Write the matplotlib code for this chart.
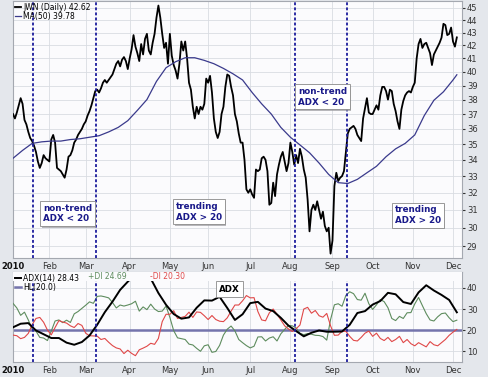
import matplotlib
matplotlib.use('Agg')
import matplotlib.pyplot as plt
import matplotlib.patheffects as pe
from matplotlib.ticker import FixedLocator, FixedFormatter, NullLocator
import numpy as np
import pandas as pd

# trading days of 2010 shown on the chart (NYSE holidays removed)
holidays = ['2010-01-18', '2010-02-15', '2010-04-02', '2010-05-31',
            '2010-07-05', '2010-09-06', '2010-11-25']
dates = pd.bdate_range('2010-01-04', '2010-12-03', freq='C', holidays=holidays)

# JWN daily close
close = [
    37.0, 36.7, 37.1, 37.6, 38.1, 37.7, 36.6, 36.3, 35.8, 35.4,
    35.2, 34.9, 34.5, 33.9, 33.5, 33.8, 34.3, 34.1, 34.0, 33.9,
    35.3, 35.6, 35.1, 33.5, 33.4, 33.3, 33.1, 32.9, 33.4, 34.2,
    34.3, 34.6, 35.1, 35.3, 35.6, 35.8, 36.0, 36.3, 36.5, 36.9,
    37.2, 37.6, 38.1, 38.6, 38.7, 38.5, 38.8, 39.2, 39.4, 39.2,
    39.4, 39.6, 39.8, 40.2, 40.6, 40.8, 40.4, 40.9, 41.1, 40.8,
    40.2, 41.0, 41.7, 42.8, 41.9, 41.4, 40.8, 42.1, 41.3, 42.5,
    42.9, 41.6, 41.3, 42.2, 42.9, 44.2, 45.2, 44.2, 42.9, 41.8,
    42.2, 40.6, 42.9, 41.2, 40.5, 40.1, 39.5, 40.6, 42.3, 41.6,
    42.3, 41.0, 39.2, 38.7, 37.5, 36.7, 37.5, 37.0, 37.5, 37.3,
    37.7, 39.5, 39.2, 39.7, 38.5, 36.7, 35.8, 35.4, 35.8, 37.0,
    37.5, 38.9, 39.8, 39.7, 38.9, 38.3, 37.0, 36.5, 35.7, 35.1,
    35.1, 34.0, 32.2, 32.0, 32.2, 31.9, 31.7, 33.4, 33.3, 33.4,
    34.1, 34.2, 34.0, 33.3, 31.3, 31.4, 32.6, 31.8, 33.1, 33.7,
    34.2, 34.5, 33.9, 33.3, 33.8, 35.1, 34.5, 33.7, 34.3, 33.8,
    34.7, 34.2, 33.4, 32.9, 31.6, 29.8, 31.0, 31.3, 31.0, 31.5,
    31.0, 30.5, 30.9, 30.1, 29.8, 30.0, 28.6, 29.3, 32.4, 33.2,
    32.7, 32.9, 33.0, 33.3, 34.5, 35.7, 36.0, 36.1, 36.2, 36.0,
    35.6, 35.4, 35.2, 36.7, 37.4, 38.1, 37.1, 37.0, 37.0, 37.3,
    37.6, 37.3, 38.3, 38.9, 38.9, 38.6, 38.0, 38.7, 38.6, 37.7,
    37.2, 36.5, 36.0, 37.3, 37.9, 38.3, 38.5, 38.6, 38.5, 38.9,
    39.2, 41.0, 42.1, 42.5, 41.8, 42.1, 42.2, 41.8, 41.4, 40.5,
    41.3, 41.6, 41.9, 42.2, 42.6, 43.7, 43.6, 42.8, 42.9, 43.4,
    42.3, 41.9, 42.62,
]

# 50-day moving average, read every 5th trading day
ma_days = list(range(0, 231, 5)) + [232]
ma50 = [
    34.1, 34.6, 35.05, 35.15, 35.2, 35.2, 35.3, 35.35, 35.45, 35.55,
    35.8, 36.1, 36.55, 37.25, 38.0, 39.3, 40.3, 40.75, 41.05, 41.05,
    40.85, 40.6, 40.25, 39.85, 39.4, 38.5, 37.7, 37.0, 36.1, 35.45,
    34.95, 34.45, 33.8, 33.1, 32.6, 32.55, 32.8, 33.2, 33.6, 34.2,
    34.7, 35.05, 35.6, 36.9, 37.95, 38.55, 39.4, 39.78,
]

# ADX(14), every 4th trading day
adx_days = list(range(0, 233, 4))
adx = [
    21.3, 23.0, 23.3, 19.8, 18.0, 16.2, 16.2, 14.0, 13.0, 14.3,
    17.4, 22.5, 28.5, 33.5, 39.1, 43.0, 46.5, 48.5, 44.5, 37.6,
    32.0, 27.6, 25.4, 26.0, 30.6, 34.1, 34.0, 35.8, 30.5, 24.8,
    27.5, 32.8, 33.4, 30.2, 29.0, 25.8, 22.1, 19.5, 17.0, 18.7,
    19.8, 19.2, 19.2, 19.3, 22.5, 28.1, 29.0, 32.1, 33.8, 37.7,
    37.0, 33.3, 32.4, 37.9, 41.3, 38.8, 36.7, 34.3, 28.43,
]

# +DI and -DI, every 2nd trading day
di_days = list(range(0, 233, 2))
plus_di = [
    32.7, 30.5, 27.0, 28.5, 24.8, 20.5, 19.5, 16.5, 16.2, 15.0,
    19.5, 24.3, 24.8, 23.5, 24.7, 23.6, 27.7, 28.8, 30.3, 31.8,
    33.4, 32.7, 36.0, 36.2, 35.8, 35.3, 33.1, 30.5, 31.9, 31.4,
    31.9, 32.5, 33.7, 29.0, 31.0, 29.7, 32.3, 30.0, 28.8, 29.0,
    31.4, 26.0, 19.7, 16.3, 15.9, 15.5, 13.3, 12.9, 11.3, 9.9,
    12.5, 13.0, 9.4, 9.8, 12.7, 17.6, 20.4, 21.9, 19.6, 15.5,
    14.0, 12.6, 11.5, 12.3, 16.7, 16.8, 14.8, 16.2, 16.8, 14.8,
    18.2, 20.3, 22.2, 22.0, 21.0, 18.4, 17.8, 18.3, 18.0, 17.5,
    17.4, 16.9, 15.2, 25.0, 32.0, 32.5, 31.3, 36.5, 38.2, 37.3,
    34.5, 34.2, 37.5, 32.5, 29.8, 32.0, 34.5, 33.5, 30.6, 25.5,
    24.5, 26.5, 25.5, 28.2, 28.3, 32.4, 35.5, 31.6, 27.8, 24.8,
    24.3, 26.3, 27.8, 28.1, 25.8, 24.0, 24.69,
]
minus_di = [
    17.6, 17.3, 15.9, 16.5, 18.4, 22.5, 25.5, 26.0, 23.7, 20.0,
    17.7, 21.2, 24.5, 23.8, 23.3, 22.0, 21.2, 23.1, 22.2, 18.5,
    17.3, 17.2, 17.1, 15.5, 16.0, 14.2, 12.6, 11.5, 11.0, 8.8,
    10.4, 8.9, 7.8, 10.6, 11.4, 12.3, 13.7, 13.2, 16.0, 24.0,
    27.5, 27.5, 29.2, 25.5, 26.0, 26.5, 28.5, 26.0, 28.6, 28.4,
    26.8, 25.0, 26.9, 25.0, 24.2, 24.0, 25.8, 29.0, 31.9, 31.9,
    33.9, 36.4, 35.3, 35.4, 28.8, 24.8, 24.4, 28.2, 30.0, 27.5,
    24.8, 22.0, 20.5, 19.3, 20.6, 22.4, 30.0, 30.8, 28.0, 29.3,
    26.8, 26.1, 27.9, 22.0, 17.5, 17.6, 19.4, 19.4, 17.0, 15.1,
    14.8, 16.5, 18.5, 19.5, 17.0, 18.5, 16.0, 15.0, 16.5, 14.5,
    15.5, 17.0, 14.0, 15.5, 13.5, 12.5, 14.0, 13.0, 12.0, 14.5,
    13.0, 12.5, 14.0, 15.5, 17.5, 19.0, 20.3,
]
hl_level = 20.0

# days marked with the blue dashed lines
signal_days = [10.5, 43.5, 147.5, 174.5]
notes = [
    (15.7, 30.8, 'non-trend\nADX < 20'),
    (85.2, 30.9, 'trending\nADX > 20'),
    (149.0, 38.2, 'non-trend\nADX < 20'),
    (199.7, 30.7, 'trending\nADX > 20'),
]
price_ticks = list(range(29, 46))
ind_ticks = [10, 20, 30, 40]

x = np.arange(len(dates))
month_pos = [i for i in range(len(dates)) if i == 0 or dates[i].month != dates[i - 1].month]
month_lab = ['2010' if dates[i].month == 1 else dates[i].strftime('%b') for i in month_pos]

fig_bg = '#e4e7ec'
ax_bg = '#fbfbfd'
grid_c = '#d9dce2'
sig_c = '#1c1c9c'
note_c = '#1a1a8a'

fig = plt.figure(figsize=(4.88, 3.77), dpi=100, facecolor=fig_bg)
ax1 = fig.add_axes([13 / 488, 1 - 258 / 377, 449 / 488, 257 / 377], facecolor=ax_bg)
ax2 = fig.add_axes([13 / 488, 1 - 362 / 377, 449 / 488, 90 / 377], facecolor=ax_bg)

xmax = 234.7
for ax in (ax1, ax2):
    ax.set_xlim(0, xmax)
    ax.xaxis.set_major_locator(FixedLocator(month_pos))
    ax.xaxis.set_major_formatter(FixedFormatter(month_lab))
    ax.yaxis.tick_right()
    ax.tick_params(axis='x', length=0, pad=3, labelsize=6, colors='#333333')
    ax.tick_params(axis='y', length=2, pad=1.5, labelsize=6, colors='#333333')
    ax.grid(True, color=grid_c, lw=0.6)
    ax.set_axisbelow(True)
    for s in ax.spines.values():
        s.set_color('#a4a8b0')
        s.set_linewidth(0.8)
    for lab in ax.get_xticklabels():
        if lab.get_text() == '2010':
            lab.set_fontweight('bold')
            lab.set_color('#111111')
    for d in signal_days:
        ax.axvline(d, color=sig_c, lw=1.3, ls=(0, (1.6, 1.2)), zorder=4)

# price panel
ax1.set_yscale('log')
ax1.set_ylim(28.37, 45.58)
ax1.yaxis.set_major_locator(FixedLocator(price_ticks))
ax1.yaxis.set_major_formatter(FixedFormatter([str(t) for t in price_ticks]))
ax1.yaxis.set_minor_locator(NullLocator())
l_px, = ax1.plot(x, close, color='black', lw=1.3, zorder=3)
l_ma, = ax1.plot(ma_days, ma50, color='#3a3a8c', lw=0.9, zorder=3)
ax1.legend([l_px, l_ma], ['JWN (Daily) 42.62', 'MA(50) 39.78'], loc='upper left',
           frameon=False, fontsize=5.5, handlelength=0.8, handletextpad=0.3,
           borderpad=0.05, labelspacing=0.05, borderaxespad=0.15)

for nx, ny, txt in notes:
    t = ax1.text(nx, ny, txt, color=note_c, fontsize=6.3, fontweight='bold',
                 ha='left', va='center', linespacing=1.25, zorder=6,
                 bbox=dict(boxstyle='square,pad=0.3', fc='white', ec='#8a8a8a', lw=0.6))
    t.get_bbox_patch().set_path_effects([pe.withSimplePatchShadow(offset=(1.2, -1.2),
                                                                  shadow_rgbFace='#9a9aa0', alpha=0.7)])

# ADX panel
ax2.set_ylim(4.8, 47.6)
ax2.yaxis.set_major_locator(FixedLocator(ind_ticks))
ax2.yaxis.set_minor_locator(NullLocator())
ax2.plot(di_days, plus_di, color='#5e8c5e', lw=0.8, zorder=3)
ax2.plot(di_days, minus_di, color='#e04848', lw=0.8, zorder=3)
l_hl = ax2.axhline(hl_level, color='#7474ac', lw=1.8, zorder=2)
l_adx, = ax2.plot(adx_days, adx, color='black', lw=1.4, zorder=3)
ax2.axhspan(43.4, 48, color=ax_bg, lw=0, zorder=4)
ax2.legend([l_adx, l_hl], ['ADX(14) 28.43', 'HL(20.0)'], loc='upper left',
           frameon=False, fontsize=5.5, handlelength=0.8, handletextpad=0.3,
           borderpad=0.05, labelspacing=0.05, borderaxespad=0.15).set_zorder(6)
ax2.text(0.168, 0.948, '+DI 24.69', transform=ax2.transAxes, color='#5e8c5e',
         fontsize=5.5, va='center', ha='left', zorder=6)
ax2.text(0.305, 0.948, '-DI 20.30', transform=ax2.transAxes, color='#e04848',
         fontsize=5.5, va='center', ha='left', zorder=6)
ax2.text(113, 39.5, 'ADX', color='black', fontsize=6.3, fontweight='bold',
         ha='center', va='center', zorder=6,
         bbox=dict(boxstyle='square,pad=0.35', fc='white', ec='#8a8a8a', lw=0.6))

fig.savefig('out.png', dpi=100, facecolor=fig_bg)
